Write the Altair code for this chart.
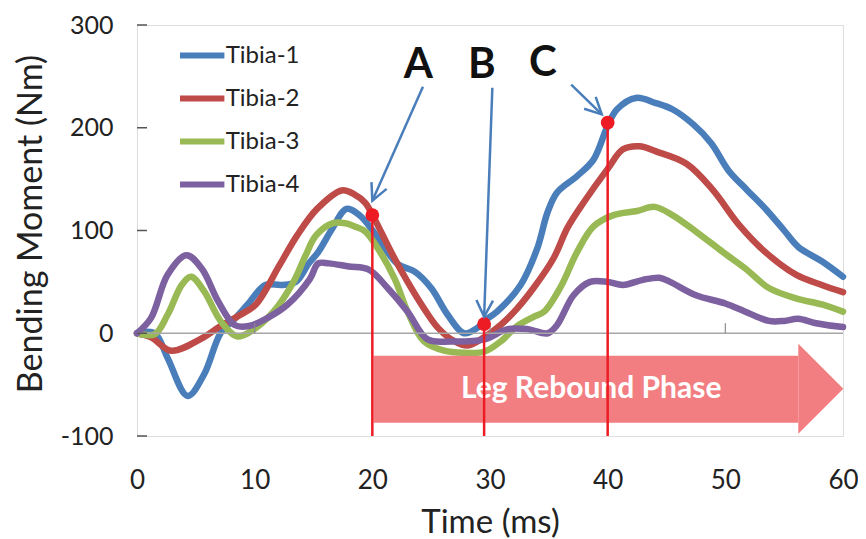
import math
import altair as alt
import pandas as pd

# ---------------- data ----------------
series_names = ["Tibia-1", "Tibia-2", "Tibia-3", "Tibia-4"]
series_colors = ["#4A7EBB", "#BE4B48", "#98B954", "#7D60A0"]

t1 = [0, 1.5, 2.6, 4.3, 5.7, 7.1, 8.3, 9.4, 10.9, 12.3, 13.5, 14.6, 15.4, 16.6, 17.8, 18.8, 19.7, 21.1, 22.2, 23.6,
      25.0, 26.4, 27.8, 28.9, 29.5, 30.6, 32.6, 34.0, 34.9, 35.7, 37.4, 38.8, 40.0, 40.8, 42.4, 44.1, 45.5, 47.3, 48.8, 50.3,
      51.8, 53.5, 55.0, 56.2, 58.2, 60.0]
v1 = [0, 0, -24, -61, -40, 0, 14, 28, 47, 47, 50, 68, 79, 102, 121, 116, 105, 82, 67, 60,
      44, 18, 0, 5, 12, 21, 47, 82, 118, 137, 153, 169, 202, 218, 229, 224, 218, 203, 185, 158,
      140, 120, 100, 84, 70, 55]

t2 = [0, 1.2, 2.9, 5.5, 7.1, 8.8, 10.1, 12.1, 13.6, 15.3, 17.4, 18.5, 19.4, 20.2, 21.6, 23.0, 24.4, 25.6, 27.0, 28.1,
      29.5, 30.9, 32.3, 33.7, 35.4, 36.6, 38.0, 40.0, 41.3, 42.7, 44.1, 46.7, 48.9, 51.2, 53.4, 56.0, 58.2, 60.0]
v2 = [0, -4, -17, -5, 7, 18, 28, 66, 95, 121, 139, 135, 127, 111, 79, 50, 24, 5, -8, -12,
      -4, 8, 24, 44, 73, 103, 128, 160, 179, 182, 177, 165, 140, 105, 79, 57, 47, 40]

t3 = [0, 1.5, 2.6, 3.8, 4.6, 5.7, 7.1, 8.5, 9.7, 11.6, 13.3, 14.3, 15.2, 16.6, 17.7, 18.5, 19.4, 20.5, 21.9, 23.0,
      24.4, 26.1, 27.8, 29.5, 30.9, 32.3, 33.7, 34.6, 36.0, 37.4, 38.8, 40.5, 42.5, 44.0, 45.5, 47.5, 49.8, 51.7, 53.7, 56.0,
      58.2, 60.0]
v3 = [0, -1, 18, 47, 55, 41, 12, -3, 2, 21, 50, 75, 95, 107, 107, 104, 99, 82, 53, 21,
      -8, -17, -19, -18, -8, 7, 16, 21, 45, 79, 104, 115, 119, 123, 115, 99, 79, 63, 44, 34,
      28, 21]

t4 = [0, 1.2, 2.6, 4.2, 5.5, 6.9, 8.3, 9.5, 11.1, 12.8, 14.7, 15.4, 16.3, 18.0, 19.7, 21.3, 23.0, 24.7, 26.7, 29.5,
      31.5, 33.2, 34.9, 35.7, 37.1, 38.5, 40.0, 41.3, 43.0, 44.4, 45.3, 47.5, 50.0, 51.7, 53.7, 55.0, 56.2, 57.6, 60.0]
v4 = [0, 15, 57, 76, 63, 31, 8, 7, 15, 28, 53, 68, 68, 65, 62, 44, 21, -6, -8, -6,
      4, 4, 0, 8, 37, 50, 50, 47, 52, 54, 50, 37, 29, 21, 12, 12, 14, 10, 6]

x_ticks = [0, 10, 20, 30, 40, 50, 60]
y_ticks = [-100, 0, 100, 200, 300]

# annotation points A, B, C
mark_labels = ["A", "B", "C"]
mark_t = [20.0, 29.5, 40.0]
mark_v = [115, 9, 205]
label_t = [23.9, 29.3, 34.5]
label_v = [261, 261, 263]
arrow_t0 = [24.3, 30.2, 36.9]
arrow_v0 = [240, 239, 242]
arrow_t1 = [20.0, 29.5, 39.5]
arrow_v1 = [129, 16, 213]

# "Leg Rebound Phase" banner arrow
phase_text = "Leg Rebound Phase"
phase_t_start = 20.1
phase_t_head = 56.2
phase_v_top = -22
phase_v_bottom = -87
phase_v_mid = -54
phase_text_t = 38.6

# ---------------- layout ----------------
W, H = 706, 411
X_DOM = [0, 60]
Y_DOM = [-100, 300]
FONT = "Lato"
sx = W / (X_DOM[1] - X_DOM[0])
sy = H / (Y_DOM[1] - Y_DOM[0])

rows = []
for name, ts, vs in zip(series_names, [t1, t2, t3, t4], [v1, v2, v3, v4]):
    for t, v in zip(ts, vs):
        rows.append({"series": name, "t": t, "v": v})
df = pd.DataFrame(rows)

angles = []
for a, b, c, d in zip(arrow_t0, arrow_v0, arrow_t1, arrow_v1):
    dx = (c - a) * sx
    dy = -(d - b) * sy
    angles.append(math.degrees(math.atan2(-dx, dy)) % 360)

ann = pd.DataFrame({"label": mark_labels, "t": mark_t, "v": mark_v,
                    "lt": label_t, "lv": label_v,
                    "t0": arrow_t0, "v0": arrow_v0, "t1": arrow_t1, "v1": arrow_v1,
                    "angle": angles})

xs = alt.Scale(domain=X_DOM, nice=False, zero=False)
ys = alt.Scale(domain=Y_DOM, nice=False, zero=False)

x_axis = alt.Axis(values=x_ticks, domain=False, ticks=False, grid=False, labelFont=FONT,
                  labelFontSize=26, labelColor="#222222", labelPadding=31, labelFlush=False,
                  labelExpr="'' + datum.value", titleFont=FONT,
                  titleFontSize=33, titleFontWeight="normal", titleColor="#222222",
                  titleY=86, titleBaseline="middle")
y_axis = alt.Axis(values=y_ticks, domain=False, ticks=False, grid=False, labelFont=FONT,
                  labelFontSize=25, labelColor="#222222", labelPadding=24, labelFlush=False,
                  labelExpr="'' + datum.value", titleFont=FONT,
                  titleFontSize=34, titleFontWeight="normal", titleColor="#222222",
                  titleX=-106, titleY=H / 2 - 7, titleAngle=270, titleAlign="center",
                  titleBaseline="middle")
X_TITLE = "Time (ms)"
Y_TITLE = "Bending Moment (Nm)"


def X(field):
    return alt.X(field, type="quantitative", scale=xs, axis=x_axis, title=X_TITLE)


def Y(field):
    return alt.Y(field, type="quantitative", scale=ys, axis=y_axis, title=Y_TITLE)


pink = "#F27E81"
red = "#ED1C24"
blue = "#4A7EBB"

phase_df = pd.DataFrame({"t": [phase_t_start], "t2": [phase_t_head], "v": [phase_v_top], "v2": [phase_v_bottom],
                         "th": [phase_t_head], "vm": [phase_v_mid], "tt": [phase_text_t], "txt": [phase_text]})

banner = alt.Chart(phase_df).mark_rect(color=pink).encode(x=X("t"), x2="t2:Q", y=Y("v"), y2="v2:Q")
banner_head = alt.Chart(phase_df).mark_point(shape="M0,-1L1,0L0,1Z", filled=True, color=pink, opacity=1,
                                             size=8100, strokeWidth=0).encode(x=X("th"), y=Y("vm"))
banner_text = alt.Chart(phase_df).mark_text(font=FONT, fontSize=30, fontWeight="bold", color="white",
                                            align="center", baseline="middle").encode(
    x=X("tt"), y=Y("vm"), text="txt:N")

zero_line = alt.Chart(pd.DataFrame({"v": [0]})).mark_rule(color="#A6A6A6", strokeWidth=1.5).encode(y=Y("v"))

xt = alt.Chart(pd.DataFrame({"t": x_ticks[1:-1]})).mark_rule(color="#8C8C8C", strokeWidth=1.2).encode(
    x=X("t"), y=alt.datum(0), y2=alt.datum(9.7))

yt = alt.Chart(pd.DataFrame({"v": y_ticks})).mark_rule(color="#555555", strokeWidth=1.5).encode(
    x=alt.value(0), x2=alt.value(10), y=Y("v"))

lines = alt.Chart(df).mark_line(strokeWidth=6.5, interpolate="catmull-rom", strokeCap="round",
                                strokeJoin="round").encode(
    x=X("t"),
    y=Y("v"),
    color=alt.Color("series:N", scale=alt.Scale(domain=series_names, range=series_colors),
                    legend=alt.Legend(title=None, orient="none", legendX=43.7, legendY=9,
                                      symbolType="M-1.2,0L1.2,0", symbolSize=1369, symbolStrokeWidth=6,
                                      labelFont=FONT, labelFontSize=24, labelColor="#222222",
                                      rowPadding=9, labelOffset=2, padding=0)),
)

red_lines = alt.Chart(ann).mark_rule(color=red, strokeWidth=2.5).encode(
    x=X("t"), y=Y("v"), y2=alt.datum(-100))
red_dots = alt.Chart(ann).mark_circle(color=red, opacity=1, size=190).encode(x=X("t"), y=Y("v"))

arrow_lines = alt.Chart(ann).mark_rule(color=blue, strokeWidth=2.5).encode(
    x=X("t0"), y=Y("v0"), x2="t1:Q", y2="v1:Q")
arrow_heads = alt.Chart(ann).mark_point(shape="M-0.5,-1L0,0L0.5,-1", filled=False, color=blue,
                                        strokeWidth=2.5, size=1100, opacity=1).encode(
    x=X("t1"), y=Y("v1"), angle=alt.Angle("angle:Q", scale=None))
letters = alt.Chart(ann).mark_text(font=FONT, fontSize=42, fontWeight="bold", color="#111111",
                                   align="center", baseline="middle").encode(
    x=X("lt"), y=Y("lv"), text="label:N")

chart = alt.layer(
    lines, banner, banner_head, zero_line, xt, yt, banner_text,
    red_lines, red_dots, arrow_lines, arrow_heads, letters
).properties(
    width=W, height=H,
    autosize=alt.AutoSizeParams(type="none"),
    padding={"left": 129, "top": 17, "right": 15, "bottom": 103},
).configure_view(stroke="#595959", strokeWidth=1.5).configure(font=FONT)

chart.save("out.html", embed_options={"renderer": "svg", "actions": False})
